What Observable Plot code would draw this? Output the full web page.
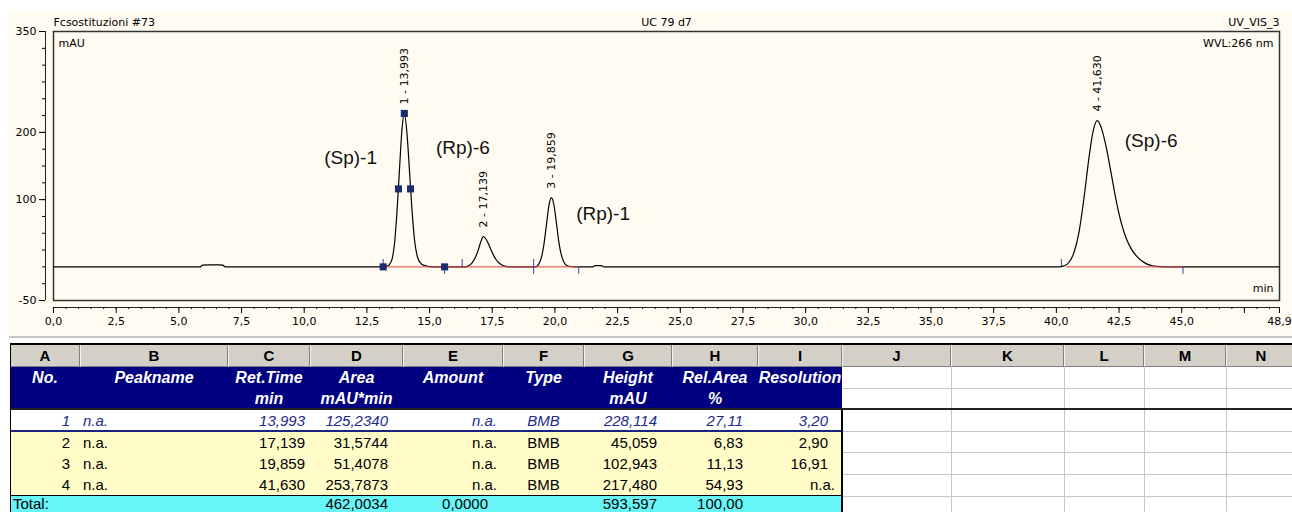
<!DOCTYPE html>
<html><head><meta charset="utf-8">
<script src="https://cdn.jsdelivr.net/npm/d3@7"></script>
<script src="https://cdn.jsdelivr.net/npm/@observablehq/plot@0.6"></script>
<style>
html,body{margin:0;padding:0;background:#fff;}
body{width:1292px;height:512px;overflow:hidden;position:relative;font-family:"Liberation Sans",Arial,sans-serif;}
#chart{position:absolute;left:9px;top:11px;}
#sep{position:absolute;left:9px;top:336px;width:1283px;height:2px;background:#c8c8c8;}
#tbl{position:absolute;left:0;top:0;width:1292px;height:512px;}
.c{position:absolute;box-sizing:border-box;white-space:nowrap;display:flex;align-items:center;font-size:15px;line-height:1;}
</style></head><body>
<div id="chart"></div><div id="sep"></div><div id="tbl"></div>
<script>
// ---------------- DATA ----------------
const xDomain = [0, 48.9];
const yDomain = [-50, 350];
const xMajorTicks = [0, 2.5, 5, 7.5, 10, 12.5, 15, 17.5, 20, 22.5, 25, 27.5, 30, 32.5, 35, 37.5, 40, 42.5, 45, 47.5, 48.9];
const xUnlabelled = [47.5];
const xMinorTicks = d3.range(0, 48.9, 0.5);
const yMajorTicks = [350, 200, 100, -50];
const yMinorTicks = d3.range(-50, 351, 25);

const titleLeft = "Fcsostituzioni #73";
const titleCenter = "UC 79 d7";
const titleRight = "UV_VIS_3";
const yUnit = "mAU";
const wavelength = "WVL:266 nm";
const xUnit = "min";

// chromatogram trace (min, mAU)
const traceTime = [0, 5.85, 5.95, 6.2, 6.6, 6.75, 6.85, 13.1, 13.3, 13.4, 13.5, 13.6, 13.7, 13.8, 13.9, 13.993, 14.1, 14.2, 14.3, 14.4, 14.5, 14.6, 14.7, 14.85, 15.0, 15.3,
  16.45, 16.55, 16.65, 16.75, 16.85, 16.95, 17.05, 17.139, 17.25, 17.35, 17.45, 17.55, 17.65, 17.75, 17.85, 18.0, 18.2,
  19.25, 19.3, 19.36, 19.46, 19.56, 19.66, 19.76, 19.859, 19.96, 20.06, 20.16, 20.26, 20.36, 20.46, 20.6, 20.8,
  21.5, 21.6, 21.85, 21.95,
  40.1, 40.3, 40.5, 40.7, 40.9, 41.1, 41.3, 41.45, 41.63, 41.8, 42.0, 42.2, 42.4, 42.6, 42.8, 43.0, 43.2, 43.4, 43.6, 43.8, 44.0, 44.3, 48.9];
const traceMAU = [0, 0, 2.5, 3, 3, 2.5, 0, 0, 1, 3.5, 11, 34, 82, 145, 205, 228.1, 198, 142, 84, 40, 17, 7.5, 3.5, 1.5, 0.5, 0,
  0, 1.5, 4, 9, 16, 26, 38, 45.1, 41.5, 34, 25.5, 17.5, 11, 6.5, 3.5, 1.2, 0,
  0, 1.5, 4.5, 14, 33, 62, 91, 102.9, 92, 65, 36, 17, 7, 2.5, 0.6, 0,
  0, 2, 2, 0,
  0, 1.5, 6.5, 21, 51, 102, 162, 199, 217.5, 206, 176, 136, 96, 64, 41, 26, 16, 9, 4.5, 2, 0.7, 0, 0];

// peak table
const peakNo = [1, 2, 3, 4];
const peakName = ["n.a.", "n.a.", "n.a.", "n.a."];
const retTime = [13.993, 17.139, 19.859, 41.630];
const peakArea = [125.2340, 31.5744, 51.4078, 253.7873];
const peakAmount = ["n.a.", "n.a.", "n.a.", "n.a."];
const peakType = ["BMB", "BMB", "BMB", "BMB"];
const peakHeight = [228.114, 45.059, 102.943, 217.480];
const relArea = [27.11, 6.83, 11.13, 54.93];
const resolution = [3.20, 2.90, 16.91, null];
const totalArea = 462.0034, totalAmount = 0.0000, totalHeight = 593.597, totalRelArea = 100.00;

// integration marks
const markerTime = [13.15, 13.76, 13.993, 14.24, 15.6];
const markerMAU = [0, 116, 228.114, 116, 0];
const delimTime = [13.15, 15.6, 16.3, 19.15, 20.95, 40.2, 45.05];
const delimSide = ["up", "down", "up", "both", "down", "up", "down"];
const baseStart = [13.15, 40.4];
const baseEnd = [20.95, 45.05];

// compound annotations (anchor in min, mAU)
const compoundName = ["(Sp)-1", "(Rp)-6", "(Rp)-1", "(Sp)-6"];
const compoundTime = [11.85, 16.33, 21.92, 43.78];
const compoundMAU = [162, 177, 79, 188];

// spreadsheet
const colLetters = ["A", "B", "C", "D", "E", "F", "G", "H", "I", "J", "K", "L", "M", "N"];
const headerTop = ["No.", "Peakname", "Ret.Time", "Area", "Amount", "Type", "Height", "Rel.Area", "Resolution"];
const headerBottom = ["", "", "min", "mAU*min", "", "", "mAU", "%", ""];

// ---------------- CHART ----------------
const loc = d3.formatLocale({decimal: ",", thousands: ".", grouping: [3], currency: ["", ""]});
const f = p => loc.format(`.${p}f`);

const trace = traceTime.map((t, i) => ({t, v: traceMAU[i]}));
const peaks = peakNo.map((no, i) => ({no, t: retTime[i], h: peakHeight[i]}));
const markers = markerTime.map((t, i) => ({t, v: markerMAU[i]}));
const delims = delimTime.map((t, i) => ({t, side: delimSide[i]}));
const baseSegs = baseStart.map((s, i) => ({s, e: baseEnd[i]}));
const compounds = compoundName.map((name, i) => ({name, t: compoundTime[i], v: compoundMAU[i]}));
const TICK = 11;

const chart = Plot.plot({
  width: 1283, height: 325,
  marginLeft: 44, marginRight: 13, marginTop: 20, marginBottom: 36,
  x: {domain: xDomain},
  y: {domain: yDomain},
  style: {background: "#fffbf0", color: "#000", fontFamily: "'DejaVu Sans', sans-serif", fontSize: "11px"},
  marks: [
    Plot.frame({stroke: "#333", strokeWidth: 1.5}),
    Plot.ruleY([yDomain[0]], {x1: () => xDomain[0], x2: () => xDomain[1], dy: 7, stroke: "#222"}),
    Plot.axisX({ticks: xMinorTicks, tickSize: 2, dy: 7, tickFormat: () => "", label: null}),
    Plot.axisX({ticks: xMajorTicks, tickSize: 6, dy: 7, tickPadding: 4, tickFormat: d => xUnlabelled.includes(d) ? "" : f(1)(d), label: null}),
    Plot.ruleX([xDomain[0]], {y1: () => yDomain[0], y2: () => yDomain[1], dx: -8, stroke: "#222"}),
    Plot.axisY({ticks: yMinorTicks, tickSize: 3, dx: -8, tickFormat: () => "", label: null}),
    Plot.axisY({ticks: yMajorTicks, tickSize: 6, dx: -8, tickPadding: 3, tickFormat: d => String(d), label: null}),
    Plot.line(trace, {x: "t", y: "v", stroke: "#000", strokeWidth: 1.2, curve: "monotone-x"}),
    Plot.ruleY(baseSegs, {x1: "s", x2: "e", y: () => 0, stroke: "#e84040", strokeWidth: 1}),
    Plot.ruleX(delims, {x: "t", y1: d => d.side === "up" ? 0 : -TICK, y2: d => d.side === "down" ? 0 : TICK, stroke: "#3344aa", strokeWidth: 1}),
    Plot.dot(markers, {x: "t", y: "v", symbol: "square", r: 4, fill: "#1c2b6e", stroke: "none"}),
    Plot.text(peaks, {x: "t", y: "h", text: d => `${d.no} - ${f(3)(d.t)}`, rotate: -90, textAnchor: "start", lineAnchor: "middle", dy: -9}),
    Plot.text(compounds, {x: "t", y: "v", text: "name", fontSize: 19, fontFamily: "'Liberation Sans', Arial, sans-serif", fill: "#111"}),
    Plot.text([titleLeft], {text: d => d, frameAnchor: "top-left", textAnchor: "start", lineAnchor: "bottom", dy: -6}),
    Plot.text([titleCenter], {text: d => d, frameAnchor: "top", textAnchor: "middle", lineAnchor: "bottom", dy: -6}),
    Plot.text([titleRight], {text: d => d, frameAnchor: "top-right", textAnchor: "end", lineAnchor: "bottom", dy: -6}),
    Plot.text([yUnit], {text: d => d, frameAnchor: "top-left", textAnchor: "start", lineAnchor: "top", dx: 5, dy: 8}),
    Plot.text([wavelength], {text: d => d, frameAnchor: "top-right", textAnchor: "end", lineAnchor: "top", dx: -6, dy: 8}),
    Plot.text([xUnit], {text: d => d, frameAnchor: "bottom-right", textAnchor: "end", lineAnchor: "bottom", dx: -6, dy: -9})
  ]
});
document.getElementById("chart").appendChild(chart);

// ---------------- TABLE ----------------
const colX = [10, 80, 228, 310, 403, 503, 584, 672, 758, 842, 951, 1064, 1144, 1226, 1296];
const tbl = document.getElementById("tbl");
function box(x, y, w, h, css) {
  const d = document.createElement("div");
  d.style.cssText = `position:absolute;left:${x}px;top:${y}px;width:${w}px;height:${h}px;box-sizing:border-box;${css || ""}`;
  tbl.appendChild(d);
  return d;
}
function txt(c, y0, y1, text, align, pad, css) {
  const d = document.createElement("div");
  d.className = "c";
  const jc = align === "left" ? "flex-start" : align === "right" ? "flex-end" : "center";
  d.style.cssText = `left:${colX[c]}px;top:${y0}px;width:${colX[c + 1] - colX[c]}px;height:${y1 - y0}px;justify-content:${jc};` +
    (align === "left" ? `padding-left:${pad}px;` : align === "right" ? `padding-right:${pad}px;` : "") + (css || "");
  d.textContent = text;
  tbl.appendChild(d);
}
const AI = colX[9] - colX[0];
// backgrounds
box(10, 343, 1282, 2, "background:#000");
colLetters.forEach((L, c) => {
  box(colX[c], 345, colX[c + 1] - colX[c], 22, "background:#d4d0c8;border-left:1px solid #f4f4f4;border-right:1px solid #808080;border-bottom:1px solid #808080;");
  txt(c, 345, 366, L, "center", 0, "font-weight:bold;color:#000;");
});
box(10, 367, AI, 42, "background:#000080");
box(10, 409, AI, 22, "background:#fff");
box(10, 431, AI, 65, "background:#fffcc8");
box(10, 496, AI, 22, "background:#66f6f8");
// grid in J..N
[388, 431, 452, 474, 496].forEach(y => box(842, y, 1292 - 842, 1, "background:#c6c6c6"));
[951, 1064, 1144, 1226].forEach(x => box(x, 367, 1, 150, "background:#c6c6c6"));
// strong lines
box(10, 408, 1282, 2, "background:#222");
box(10, 430, AI, 2, "background:#1a237e");
box(10, 495, AI, 1, "background:#000");
box(841, 409, 2, 110, "background:#000");
box(10, 343, 1, 175, "background:#000");
// header text
headerTop.forEach((t, c) => txt(c, 367, 388, t, "center", 0, "color:#fff;font-weight:bold;font-style:italic;font-size:16px;"));
headerBottom.forEach((t, c) => t && txt(c, 388, 409, t, "center", 0, "color:#fff;font-weight:bold;font-style:italic;font-size:16px;"));
// data rows
const rowY = [[410, 431], [432, 452], [452, 474], [474, 495]];
peakNo.forEach((no, i) => {
  const cells = [
    [String(no), "right", 10], [peakName[i], "left", 3], [f(3)(retTime[i]), "right", 5], [f(4)(peakArea[i]), "right", 15],
    [peakAmount[i], "right", 6], [peakType[i], "center", 0], [f(3)(peakHeight[i]), "right", 15], [f(2)(relArea[i]), "right", 15],
    resolution[i] == null ? ["n.a.", "right", 7] : [f(2)(resolution[i]), "right", 14]
  ];
  const css = i === 0 ? "color:#1c2a8c;font-style:italic;" : "color:#000;";
  cells.forEach(([t, a, p], c) => txt(c, rowY[i][0], rowY[i][1], t, a, p, css));
});
const totals = [["Total:", "left", 3], null, null, [f(4)(totalArea), "right", 15], [f(4)(totalAmount), "right", 15], null,
  [f(3)(totalHeight), "right", 15], [f(2)(totalRelArea), "right", 15], null];
totals.forEach((cell, c) => cell && txt(c, 496, 511, cell[0], cell[1], cell[2], "color:#000;"));
</script></body></html>
